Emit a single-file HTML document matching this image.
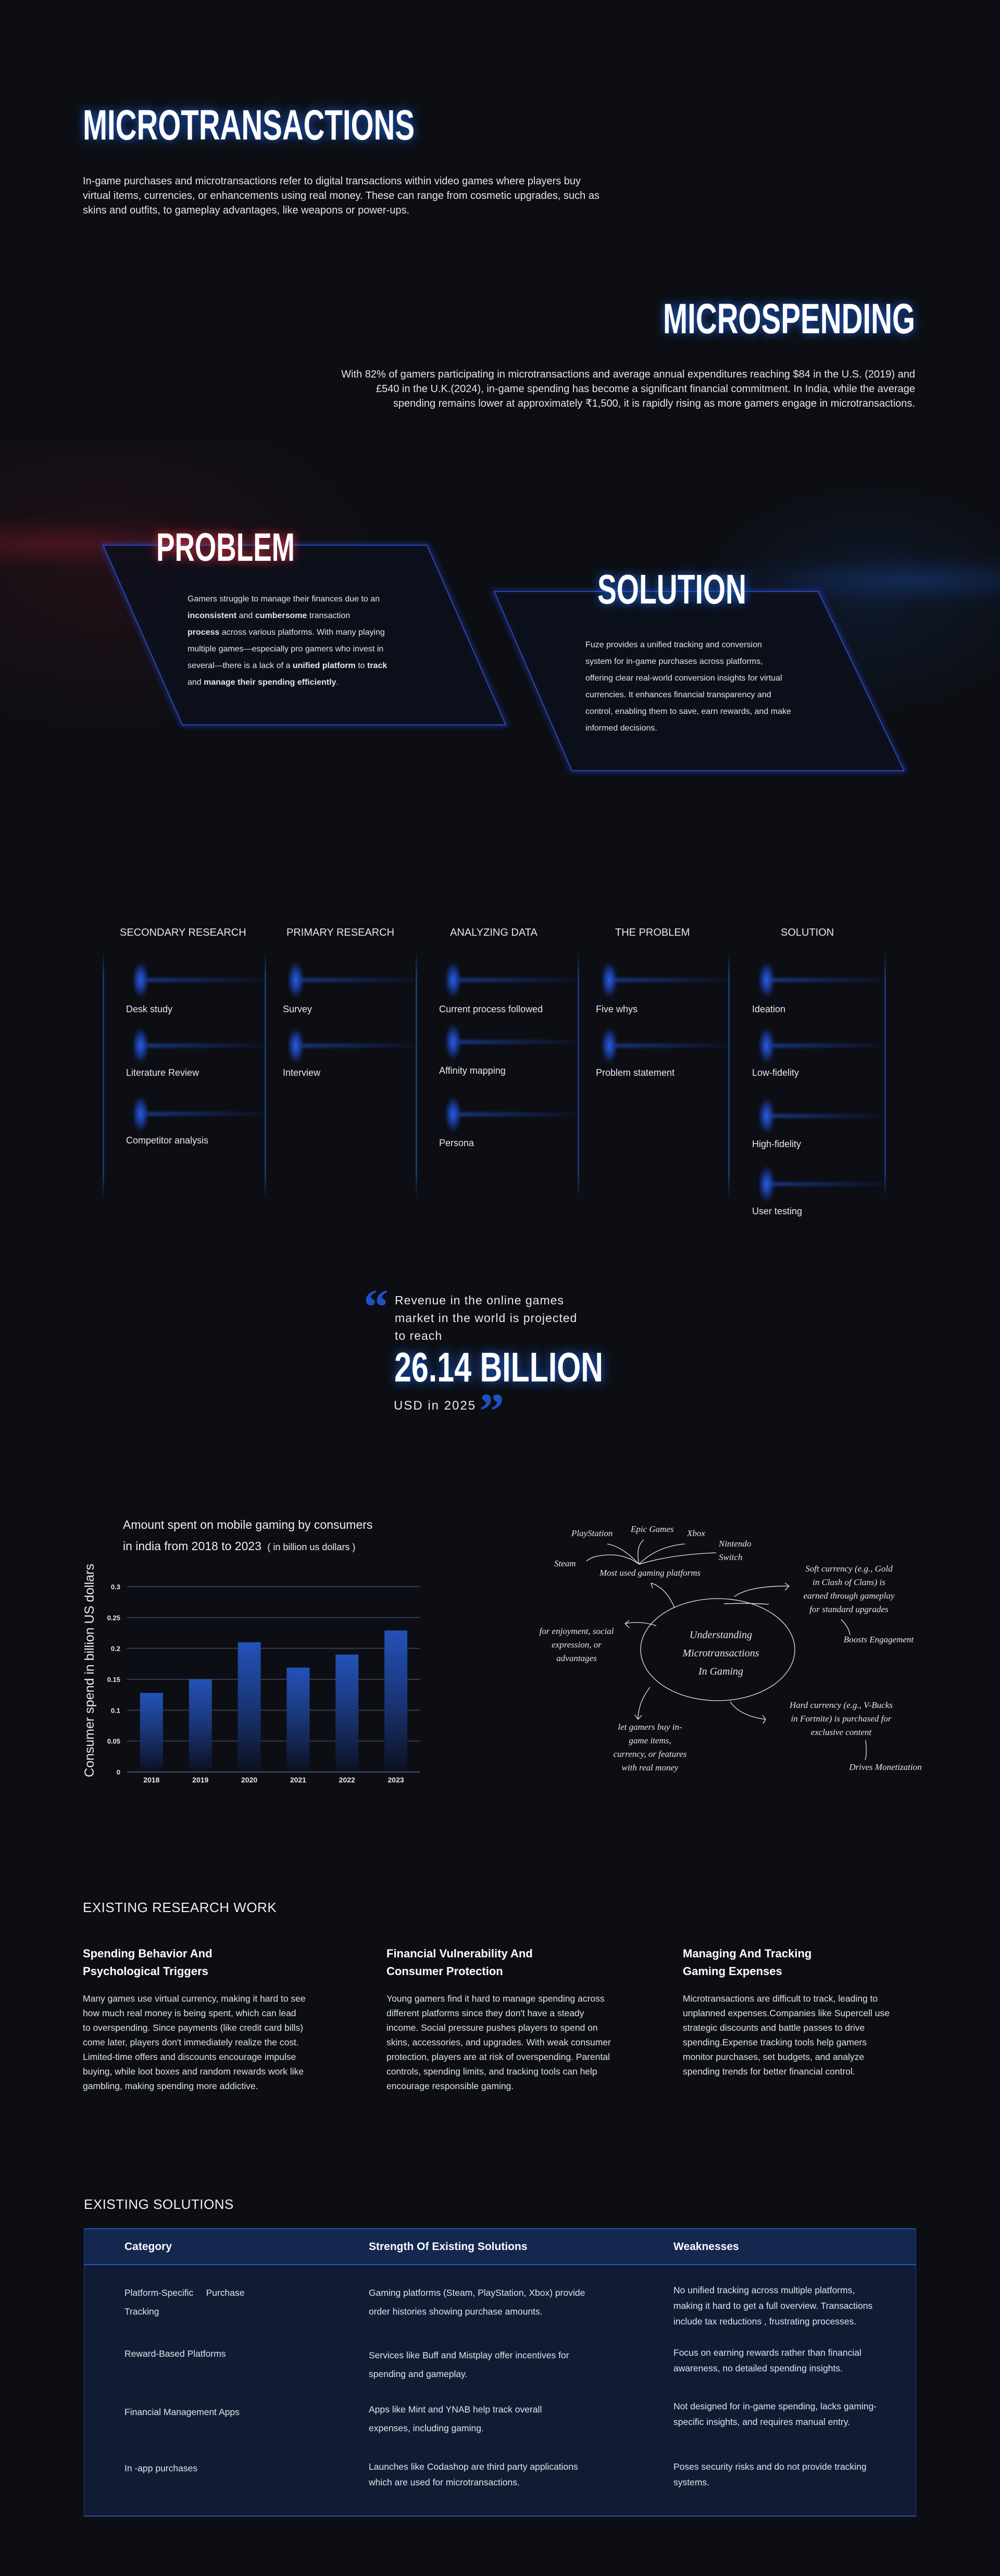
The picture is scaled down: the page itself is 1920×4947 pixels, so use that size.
<!DOCTYPE html>
<html><head><meta charset="utf-8"><style>
*{margin:0;padding:0;box-sizing:border-box}
body{width:1920px;height:4947px;background:#0c0e13;position:relative;overflow:hidden;font-family:"Liberation Sans",sans-serif;color:#e8eaf0}
.a{position:absolute;white-space:nowrap}
.p{font-size:20px;line-height:28px;color:#e4e6ec}
.glow{position:absolute;pointer-events:none}
.tlh{font-size:20px;line-height:28px;color:#e6e8ee;font-weight:300}
.tll{font-size:18px;line-height:26px;color:#e6e8ee}
.vl{position:absolute;width:3px;top:1827px;height:474px;background:linear-gradient(#0c0e13,#173a78 10%,#173a78 90%,#0c0e13)}
.dot{position:absolute;width:34px;height:72px;border-radius:50%;background:radial-gradient(ellipse at center,#2a5ce0 0%,#1a3d9a 30%,rgba(20,40,110,0.3) 60%,rgba(0,0,0,0) 75%)}
.hl{position:absolute;height:8px;background:linear-gradient(90deg,rgba(30,70,170,0.7),rgba(20,40,110,0.15));filter:blur(2px)}
.rb{font-size:17.5px;line-height:28px;color:#dfe2ea}
.rh{font-size:22px;line-height:34px;font-weight:bold;color:#fff}
.td{font-size:17.5px;line-height:30px;color:#dfe3ec}
.th{font-size:21px;line-height:30px;font-weight:bold;color:#fff}
</style></head><body>
<div class="a" style="left:0;top:800px;width:1920px;height:700px;overflow:hidden">
<div class="glow" style="left:0;top:190px;width:560px;height:110px;background:radial-gradient(ellipse at 20% 50%,rgba(150,30,40,0.45),rgba(80,20,30,0.15) 50%,rgba(0,0,0,0) 75%)"></div>
<div class="glow" style="left:0;top:50px;width:800px;height:600px;background:radial-gradient(ellipse at 25% 40%,rgba(70,20,30,0.35),rgba(0,0,0,0) 65%)"></div>
<div class="glow" style="left:1350px;top:260px;width:570px;height:110px;background:radial-gradient(ellipse at 70% 50%,rgba(25,70,150,0.45),rgba(15,40,90,0.15) 50%,rgba(0,0,0,0) 75%)"></div>
<div class="glow" style="left:1300px;top:100px;width:620px;height:500px;background:radial-gradient(ellipse at 60% 50%,rgba(20,50,100,0.3),rgba(0,0,0,0) 65%)"></div>
</div>

<svg class="a" style="left:0;top:0" width="1920" height="1520">
<defs>
<filter id="bg" x="-20%" y="-50%" width="140%" height="200%"><feGaussianBlur stdDeviation="9"/></filter>
<filter id="cardglow" x="-10%" y="-10%" width="120%" height="120%"><feGaussianBlur stdDeviation="5"/></filter>
</defs>
<g>
<text x="159" y="268" font-family="Liberation Sans Narrow, Liberation Sans, sans-serif" font-weight="bold" font-size="82" textLength="637" lengthAdjust="spacingAndGlyphs" fill="#1f5fd8" filter="url(#bg)">MICROTRANSACTIONS</text>
<text x="159" y="268" font-family="Liberation Sans Narrow, Liberation Sans, sans-serif" font-weight="bold" font-size="82" textLength="637" lengthAdjust="spacingAndGlyphs" fill="#fff">MICROTRANSACTIONS</text>
</g>
<g>
<text x="1273" y="640" font-family="Liberation Sans Narrow, Liberation Sans, sans-serif" font-weight="bold" font-size="82" textLength="484" lengthAdjust="spacingAndGlyphs" fill="#1f5fd8" filter="url(#bg)">MICROSPENDING</text>
<text x="1273" y="640" font-family="Liberation Sans Narrow, Liberation Sans, sans-serif" font-weight="bold" font-size="82" textLength="484" lengthAdjust="spacingAndGlyphs" fill="#fff">MICROSPENDING</text>
</g>
<g>
<polygon points="198,1047 820,1047 971,1392 350,1392" fill="none" stroke="#2b48d8" stroke-width="6" filter="url(#cardglow)" opacity="0.6"/>
<polygon points="198,1047 820,1047 971,1392 350,1392" fill="#0c0f1b" fill-opacity="0.85" stroke="#3152d8" stroke-width="1.5"/>
</g>
<g>
<polygon points="949,1136 1571,1136 1736,1480 1098,1480" fill="none" stroke="#2b48d8" stroke-width="6" filter="url(#cardglow)" opacity="0.6"/>
<polygon points="949,1136 1571,1136 1736,1480 1098,1480" fill="#0c0f1b" fill-opacity="0.85" stroke="#3152d8" stroke-width="1.5"/>
</g>
<g>
<text x="300" y="1077" font-family="Liberation Sans Narrow, Liberation Sans, sans-serif" font-weight="bold" font-size="76" textLength="266" lengthAdjust="spacingAndGlyphs" fill="#d02a35" filter="url(#bg)">PROBLEM</text>
<text x="300" y="1077" font-family="Liberation Sans Narrow, Liberation Sans, sans-serif" font-weight="bold" font-size="76" textLength="266" lengthAdjust="spacingAndGlyphs" fill="#fff">PROBLEM</text>
</g>
<g>
<text x="1147" y="1159" font-family="Liberation Sans Narrow, Liberation Sans, sans-serif" font-weight="bold" font-size="80" textLength="286" lengthAdjust="spacingAndGlyphs" fill="#1f66e0" filter="url(#bg)">SOLUTION</text>
<text x="1147" y="1159" font-family="Liberation Sans Narrow, Liberation Sans, sans-serif" font-weight="bold" font-size="80" textLength="286" lengthAdjust="spacingAndGlyphs" fill="#fff">SOLUTION</text>
</g>
</svg>

<div class="a p" style="left:159px;top:334px">In-game purchases and microtransactions refer to digital transactions within video games where players buy<br>virtual items, currencies, or enhancements using real money. These can range from cosmetic upgrades, such as<br>skins and outfits, to gameplay advantages, like weapons or power-ups.</div>
<div class="a p" style="right:163px;top:705px;text-align:right">With 82% of gamers participating in microtransactions and average annual expenditures reaching $84 in the U.S. (2019) and<br>£540 in the U.K.(2024), in-game spending has become a significant financial commitment. In India, while the average<br>spending remains lower at approximately ₹1,500, it is rapidly rising as more gamers engage in microtransactions.</div>

<div class="a" style="left:360px;top:1135px;font-size:16px;line-height:32px;color:#e4e6ec">Gamers struggle to manage their finances due to an<br><b>inconsistent</b> and <b>cumbersome</b> transaction<br><b>process</b> across various platforms. With many playing<br>multiple games—especially pro gamers who invest in<br>several—there is a lack of a <b>unified platform</b> to <b>track</b><br>and <b>manage their spending efficiently</b>.</div>
<div class="a" style="left:1124px;top:1223px;font-size:16px;line-height:32px;color:#e4e6ec">Fuze provides a unified tracking and conversion<br>system for in-game purchases across platforms,<br>offering clear real-world conversion insights for virtual<br>currencies. It enhances financial transparency and<br>control, enabling them to save, earn rewards, and make<br>informed decisions.</div>

<div>
<div class="a tlh" style="left:230px;top:1777px">SECONDARY RESEARCH</div>
<div class="a tlh" style="left:550px;top:1777px">PRIMARY RESEARCH</div>
<div class="a tlh" style="left:864px;top:1777px">ANALYZING DATA</div>
<div class="a tlh" style="left:1181px;top:1777px">THE PROBLEM</div>
<div class="a tlh" style="left:1499px;top:1777px">SOLUTION</div>
<div class="vl" style="left:197px"></div>
<div class="vl" style="left:508px"></div>
<div class="vl" style="left:798px"></div>
<div class="vl" style="left:1109px"></div>
<div class="vl" style="left:1398px"></div>
<div class="vl" style="left:1698px"></div>

<div class="hl" style="left:275px;top:1878px;width:233px"></div><div class="dot" style="left:253px;top:1846px"></div><div class="a tll" style="left:242px;top:1925px">Desk study</div>
<div class="hl" style="left:275px;top:2004px;width:233px"></div><div class="dot" style="left:253px;top:1972px"></div><div class="a tll" style="left:242px;top:2047px">Literature Review</div>
<div class="hl" style="left:275px;top:2135px;width:233px"></div><div class="dot" style="left:253px;top:2103px"></div><div class="a tll" style="left:242px;top:2177px">Competitor analysis</div>

<div class="hl" style="left:573px;top:1878px;width:225px"></div><div class="dot" style="left:551px;top:1846px"></div><div class="a tll" style="left:543px;top:1925px">Survey</div>
<div class="hl" style="left:573px;top:2004px;width:225px"></div><div class="dot" style="left:551px;top:1972px"></div><div class="a tll" style="left:543px;top:2047px">Interview</div>

<div class="hl" style="left:875px;top:1878px;width:234px"></div><div class="dot" style="left:853px;top:1846px"></div><div class="a tll" style="left:843px;top:1925px">Current process followed</div>
<div class="hl" style="left:875px;top:1997px;width:234px"></div><div class="dot" style="left:853px;top:1965px"></div><div class="a tll" style="left:843px;top:2043px">Affinity mapping</div>
<div class="hl" style="left:875px;top:2136px;width:234px"></div><div class="dot" style="left:853px;top:2104px"></div><div class="a tll" style="left:843px;top:2182px">Persona</div>

<div class="hl" style="left:1175px;top:1878px;width:223px"></div><div class="dot" style="left:1153px;top:1846px"></div><div class="a tll" style="left:1144px;top:1925px">Five whys</div>
<div class="hl" style="left:1175px;top:2004px;width:223px"></div><div class="dot" style="left:1153px;top:1972px"></div><div class="a tll" style="left:1144px;top:2047px">Problem statement</div>

<div class="hl" style="left:1477px;top:1878px;width:221px"></div><div class="dot" style="left:1455px;top:1846px"></div><div class="a tll" style="left:1444px;top:1925px">Ideation</div>
<div class="hl" style="left:1477px;top:2004px;width:221px"></div><div class="dot" style="left:1455px;top:1972px"></div><div class="a tll" style="left:1444px;top:2047px">Low-fidelity</div>
<div class="hl" style="left:1477px;top:2139px;width:221px"></div><div class="dot" style="left:1455px;top:2107px"></div><div class="a tll" style="left:1444px;top:2184px">High-fidelity</div>
<div class="hl" style="left:1477px;top:2270px;width:221px"></div><div class="dot" style="left:1455px;top:2238px"></div><div class="a tll" style="left:1444px;top:2313px">User testing</div>
</div>

<div>
<div class="a" style="left:698px;top:2462px;font-family:'Liberation Serif',serif;font-weight:bold;font-size:96px;line-height:96px;color:#2150c0">“</div>
<div class="a" style="left:758px;top:2480px;font-size:23px;line-height:34px;letter-spacing:1px;color:#e8eaf0">Revenue in the online games<br>market in the world is projected<br>to reach</div>
<svg class="a" style="left:700px;top:2560px" width="520" height="120">
<defs><filter id="bg2" x="-20%" y="-50%" width="140%" height="200%"><feGaussianBlur stdDeviation="10"/></filter></defs>
<text x="57" y="93" font-family="Liberation Sans Narrow, Liberation Sans, sans-serif" font-weight="bold" font-size="80" textLength="401" lengthAdjust="spacingAndGlyphs" fill="#1f5fd8" filter="url(#bg2)">26.14 BILLION</text>
<text x="57" y="93" font-family="Liberation Sans Narrow, Liberation Sans, sans-serif" font-weight="bold" font-size="80" textLength="401" lengthAdjust="spacingAndGlyphs" fill="#fff">26.14 BILLION</text>
</svg>
<div class="a" style="left:756px;top:2683px;font-size:24px;line-height:34px;letter-spacing:2px;color:#e8eaf0">USD in 2025</div>
<div class="a" style="left:920px;top:2662px;font-family:'Liberation Serif',serif;font-weight:bold;font-size:96px;line-height:96px;color:#2150c0">”</div>
</div>

<div class="a" style="left:236px;top:2908px;font-size:23px;line-height:41px;color:#eef0f5">Amount spent on mobile gaming by consumers<br>in india from 2018 to 2023 <span style="font-size:18px">&nbsp;( in billion us dollars )</span></div>
<svg id="chart" class="a" style="left:0;top:0" width="900" height="3460">
<defs><linearGradient id="barg" x1="0" y1="0" x2="0" y2="1"><stop offset="0" stop-color="#2352b8"/><stop offset="0.5" stop-color="#1a3576"/><stop offset="1" stop-color="#0c1122"/></linearGradient></defs>
</svg>
<script>
const categories=["2018","2019","2020","2021","2022","2023"];
const spendValues=[0.128,0.15,0.21,0.169,0.19,0.229];
const yTicks=[0,0.05,0.1,0.15,0.2,0.25,0.3];
const yTickLabels=["0","0.05","0.1","0.15","0.2","0.25","0.3"];
(function(){
const svg=document.getElementById('chart');const NS='http://www.w3.org/2000/svg';
const x0=244,x1=807,yb=3403,yt=3047,vmax=0.3;
const y=v=>yb-(v/vmax)*(yb-yt);
const band=(x1-x0)/categories.length;
const xc=i=>x0+band*(i+0.5);
function mk(t,a){const e=document.createElementNS(NS,t);for(const k in a)e.setAttribute(k,a[k]);svg.appendChild(e);return e;}
yTicks.forEach((v,i)=>{
 const l=mk('line',{x1:x0,x2:x1,y1:y(v),y2:y(v),stroke:v===0?'#4a5068':'#343a52','stroke-width':2});
 
 
 const t=mk('text',{x:231,y:y(v)+5,'text-anchor':'end','font-size':13,'font-weight':'bold','font-family':'Liberation Sans Narrow, Liberation Sans, sans-serif',fill:'#e8eaf0'});
 t.textContent=yTickLabels[i];
 
 
});
categories.forEach((c,i)=>{
 const w=44;
 const r=mk('rect',{x:xc(i)-w/2,y:y(spendValues[i]),width:w,height:yb-y(spendValues[i])-2,fill:'url(#barg)'});
 
 
 const t=mk('text',{x:xc(i),y:3423,'text-anchor':'middle','font-size':14,'font-weight':'bold','font-family':'Liberation Sans Narrow, Liberation Sans, sans-serif',fill:'#e8eaf0'});
 t.textContent=c;
 
 
});
const at=mk('text',{x:0,y:0,transform:'translate(180,3208) rotate(-90)','text-anchor':'middle','font-size':25,'font-family':'Liberation Sans, sans-serif',fill:'#e8eaf0'});
at.textContent='Consumer spend in billion US dollars';


})();
</script>

<svg class="a" style="left:1000px;top:2900px" width="820" height="520" font-family="Liberation Serif, serif" font-style="italic" fill="#e6e8ee" font-size="17">
<g fill="none" stroke="#e6e8ee" stroke-width="1.3">
<ellipse cx="378" cy="268" rx="148" ry="98"/>
<path d="M227,104 Q195,70 166,65 M227,104 Q220,70 236,57 M227,104 Q260,70 315,65 M227,104 Q290,85 375,82 M227,104 Q195,80 150,88 Q135,90 126,98"/>
<path d="M295,188 Q280,150 250,140 M250,140 l3,10 M250,140 l10,4"/>
<path d="M410,166 Q440,145 515,146 M515,146 l-8,-6 M515,146 l-8,8"/>
<path d="M390,180 Q440,178 476,181"/>
<path d="M260,222 Q230,212 200,218 M200,218 l8,-6 M200,218 l8,8"/>
<path d="M248,340 Q225,370 225,402 M225,402 l-6,-9 M225,402 l7,-8"/>
<path d="M402,368 Q420,395 470,402 M470,402 l-6,-8 M470,402 l-5,8"/>
<path d="M615,210 Q630,225 632,240"/>
<path d="M662,442 Q665,470 661,480"/>
</g>
<text x="97" y="50">PlayStation</text>
<text x="211" y="42">Epic Games</text>
<text x="319" y="50">Xbox</text>
<text x="380" y="70">Nintendo</text>
<text x="380" y="96">Switch</text>
<text x="64" y="108">Steam</text>
<text x="151" y="126">Most used gaming platforms</text>
<g text-anchor="middle">
<text x="630" y="118">Soft currency (e.g., Gold</text>
<text x="630" y="144">in Clash of Clans) is</text>
<text x="630" y="170">earned through gameplay</text>
<text x="630" y="196">for standard upgrades</text>
<text x="687" y="254">Boosts Engagement</text>
<text x="107" y="238">for enjoyment, social</text>
<text x="107" y="264">expression, or</text>
<text x="107" y="290">advantages</text>
<text x="615" y="380">Hard currency (e.g., V-Bucks</text>
<text x="615" y="406">in Fortnite) is purchased for</text>
<text x="615" y="432">exclusive content</text>
<text x="700" y="499">Drives Monetization</text>
<text x="248" y="422">let gamers buy in-</text>
<text x="248" y="448">game items,</text>
<text x="248" y="474">currency, or features</text>
<text x="248" y="500">with real money</text>
<text x="384" y="246" font-size="20">Understanding</text>
<text x="384" y="281" font-size="20">Microtransactions</text>
<text x="384" y="316" font-size="20">In Gaming</text>
</g>
</svg>

<div class="a" style="left:159px;top:3646px;font-size:26px;line-height:34px;font-weight:300;letter-spacing:0.5px;color:#eef0f5">EXISTING RESEARCH WORK</div>
<div class="a rh" style="left:159px;top:3735px">Spending Behavior And<br>Psychological Triggers</div>
<div class="a rh" style="left:742px;top:3735px">Financial Vulnerability And<br>Consumer Protection</div>
<div class="a rh" style="left:1311px;top:3735px">Managing And Tracking<br>Gaming Expenses</div>
<div class="a rb" style="left:159px;top:3824px">Many games use virtual currency, making it hard to see<br>how much real money is being spent, which can lead<br>to overspending. Since payments (like credit card bills)<br>come later, players don't immediately realize the cost.<br>Limited-time offers and discounts encourage impulse<br>buying, while loot boxes and random rewards work like<br>gambling, making spending more addictive.</div>
<div class="a rb" style="left:742px;top:3824px">Young gamers find it hard to manage spending across<br>different platforms since they don't have a steady<br>income. Social pressure pushes players to spend on<br>skins, accessories, and upgrades. With weak consumer<br>protection, players are at risk of overspending. Parental<br>controls, spending limits, and tracking tools can help<br>encourage responsible gaming.</div>
<div class="a rb" style="left:1311px;top:3824px">Microtransactions are difficult to track, leading to<br>unplanned expenses.Companies like Supercell use<br>strategic discounts and battle passes to drive<br>spending.Expense tracking tools help gamers<br>monitor purchases, set budgets, and analyze<br>spending trends for better financial control.</div>

<div class="a" style="left:161px;top:4216px;font-size:26px;line-height:34px;font-weight:300;letter-spacing:0.5px;color:#eef0f5">EXISTING SOLUTIONS</div>
<div class="a" style="left:161px;top:4279px;width:1598px;height:554px;background:#111c34;border:1px solid #22408a;border-bottom:2px solid #2a4fa8;border-top:2px solid #2a4fb0"></div>
<div class="a" style="left:162px;top:4281px;width:1596px;height:69px;background:#14274f;border-bottom:2px solid #2a55c8"></div>
<div class="a th" style="left:239px;top:4300px">Category</div>
<div class="a th" style="left:708px;top:4300px">Strength Of Existing Solutions</div>
<div class="a th" style="left:1293px;top:4300px">Weaknesses</div>

<div class="a td" style="left:239px;top:4385px;line-height:36px">Platform-Specific &nbsp;&nbsp;&nbsp; Purchase<br>Tracking</div>
<div class="a td" style="left:708px;top:4385px;line-height:36px">Gaming platforms (Steam, PlayStation, Xbox) provide<br>order histories showing purchase amounts.</div>
<div class="a td" style="left:1293px;top:4383px">No unified tracking across multiple platforms,<br>making it hard to get a full overview. Transactions<br>include tax reductions , frustrating processes.</div>

<div class="a td" style="left:239px;top:4505px">Reward-Based Platforms</div>
<div class="a td" style="left:708px;top:4505px;line-height:36px">Services like Buff and Mistplay offer incentives for<br>spending and gameplay.</div>
<div class="a td" style="left:1293px;top:4503px">Focus on earning rewards rather than financial<br>awareness, no detailed spending insights.</div>

<div class="a td" style="left:239px;top:4617px">Financial Management Apps</div>
<div class="a td" style="left:708px;top:4609px;line-height:36px">Apps like Mint and YNAB help track overall<br>expenses, including gaming.</div>
<div class="a td" style="left:1293px;top:4606px">Not designed for in-game spending, lacks gaming-<br>specific insights, and requires manual entry.</div>

<div class="a td" style="left:239px;top:4725px">In -app purchases</div>
<div class="a td" style="left:708px;top:4722px">Launches like Codashop are third party applications<br>which are used for microtransactions.</div>
<div class="a td" style="left:1293px;top:4722px">Poses security risks and do not provide tracking<br>systems.</div>
</body></html>
